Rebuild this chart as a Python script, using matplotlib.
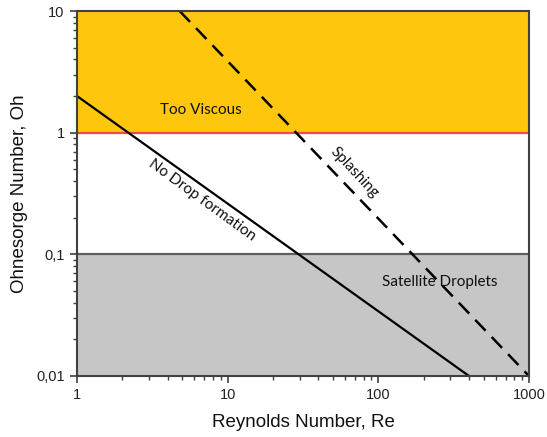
import matplotlib
matplotlib.use("Agg")
import matplotlib.pyplot as plt
from matplotlib.ticker import FixedLocator, FixedFormatter, LogLocator, NullFormatter

# Data
xlim = [1, 1000]
ylim = [0.01, 10]
viscous_band = [1, 10]
satellite_band = [0.01, 0.1]
nodrop_re = [1, 400]
nodrop_oh = [2, 0.01]
splash_re = [4.8, 1000]
splash_oh = [10, 0.01]
xticks = [1, 10, 100, 1000]
xtick_labels = ["1", "10", "100", "1000"]
yticks = [0.01, 0.1, 1, 10]
ytick_labels = ["0,01", "0,1", "1", "10"]
labels = ["Too Viscous", "No Drop formation", "Splashing", "Satellite Droplets"]
label_x = [6.65, 6.76, 68.9, 256]
label_y = [1.53, 0.28, 0.467, 0.059]
label_rot = [0, -36, -47, 0]

fig = plt.figure(figsize=(5.47, 4.37), dpi=100)
ax = fig.add_axes([0.1408, 0.1396, 0.967 - 0.1408, 0.9748 - 0.1396])
ax.set_xscale("log")
ax.set_yscale("log")
ax.set_xlim(*xlim)
ax.set_ylim(*ylim)

ax.axhspan(viscous_band[0], viscous_band[1], color="#FFC60E", zorder=0, lw=0)
ax.axhspan(satellite_band[0], satellite_band[1], color="#C6C6C6", zorder=0, lw=0)
ax.axhline(viscous_band[0], color="#F04B3C", lw=1.6, zorder=1)
ax.axhline(satellite_band[1], color="#5E5E5E", lw=1.6, zorder=1)

ax.plot(nodrop_re, nodrop_oh, color="black", lw=1.6, zorder=2, solid_capstyle="butt")
ax.plot(splash_re, splash_oh, color="black", lw=1.8, zorder=2,
        dashes=(6, 3.5), dash_capstyle="butt")

for t, x, y, r in zip(labels, label_x, label_y, label_rot):
    ax.text(x, y, t, ha="center", va="center", rotation=r, rotation_mode="anchor",
            fontsize=11, family="Lato", color="#111111", zorder=3)

ax.xaxis.set_major_locator(FixedLocator(xticks))
ax.xaxis.set_major_formatter(FixedFormatter(xtick_labels))
ax.yaxis.set_major_locator(FixedLocator(yticks))
ax.yaxis.set_major_formatter(FixedFormatter(ytick_labels))
ax.xaxis.set_minor_locator(LogLocator(base=10, subs=range(2, 10)))
ax.yaxis.set_minor_locator(LogLocator(base=10, subs=range(2, 10)))
ax.xaxis.set_minor_formatter(NullFormatter())
ax.yaxis.set_minor_formatter(NullFormatter())

ax.tick_params(which="major", direction="out", length=5, width=1.2, color="#404040",
               labelsize=10.5, labelcolor="#222222", pad=4)
ax.tick_params(which="minor", direction="out", length=3, width=1.0, color="#404040")
for lab in ax.get_xticklabels() + ax.get_yticklabels():
    lab.set_family("Liberation Sans")

for s in ax.spines.values():
    s.set_color("#404040")
    s.set_linewidth(1.5)
    s.set_zorder(4)

ax.set_xlabel("Reynolds Number, Re", fontsize=13.5, family="Liberation Sans",
              color="#111111", labelpad=8)
ax.set_ylabel("Ohnesorge Number, Oh", fontsize=13.5, family="Liberation Sans",
              color="#111111", labelpad=6)

fig.savefig("out.png", dpi=100)
